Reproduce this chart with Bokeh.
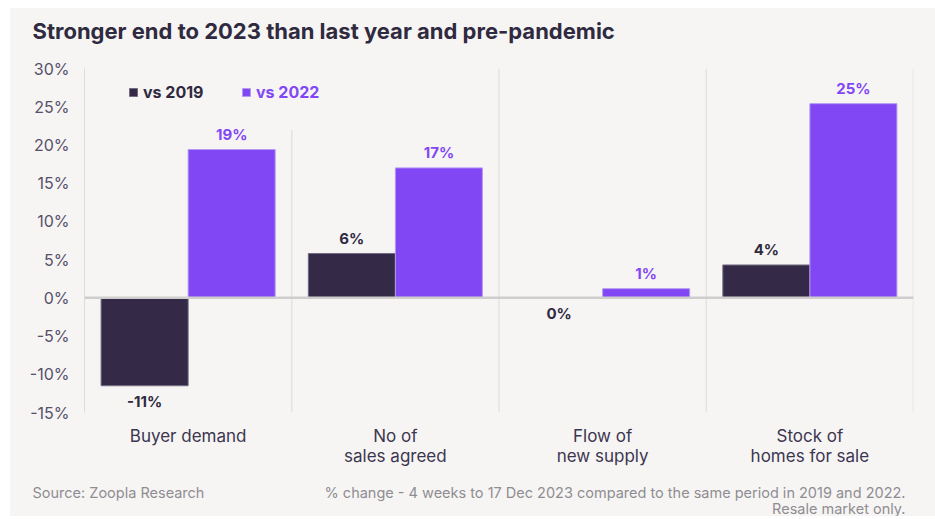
from bokeh.plotting import figure
from bokeh.layouts import column
from bokeh.models import (FactorRange, Range1d, Span, Legend, LegendItem, Label, BoxAnnotation,
                          PrintfTickFormatter, FixedTicker, ColumnDataSource)
from bokeh.transform import dodge
from bokeh.core.properties import value
from bokeh.embed import file_html
from bokeh.resources import INLINE

# ---- data ----
categories = ["Buyer demand", "No of\nsales agreed", "Flow of\nnew supply", "Stock of\nhomes for sale"]
vs_2019 = [-11.5, 5.8, 0.0, 4.3]
vs_2022 = [19.4, 17.0, 1.2, 25.4]
labels_2019 = ["-11%", "6%", "0%", "4%"]
labels_2022 = ["19%", "17%", "1%", "25%"]
series_names = ["vs 2019", "vs 2022"]
y_ticks = [-15, -10, -5, 0, 5, 10, 15, 20, 25, 30]

title_text = "Stronger end to 2023 than last year and pre-pandemic"
source_text = "Source: Zoopla Research"
note_lines = ["% change - 4 weeks to 17 Dec 2023 compared to the same period in 2019 and 2022.",
              "Resale market only."]

# ---- styles ----
BG = "#f6f5f4"
DARK = "#342a47"
PURPLE = "#8247f5"
TEXT = "#2f2a3f"
AXIS_TXT = "#56506a"
GRID = "#e4e3e2"
FOOT = "#8f8d92"
FONT = "Inter"
W = 925


def text_panel(height):
    f = figure(width=W, height=height, x_range=Range1d(0, W), y_range=Range1d(height, 0),
               x_axis_type=None, y_axis_type=None, output_backend="svg", toolbar_location=None,
               background_fill_color=BG, border_fill_color=BG,
               min_border=0, min_border_left=0, min_border_right=0, min_border_top=0, min_border_bottom=0)
    f.frame_align = False
    f.outline_line_color = None
    f.xgrid.grid_line_color = None
    f.ygrid.grid_line_color = None
    return f


# ---- header ----
head = text_panel(50)
head.add_layout(Label(x=22, y=22, text=title_text, text_font=FONT, text_font_size="22px",
                      text_font_style="bold", text_color=TEXT, text_baseline="middle"))

# ---- main chart ----
def offs(vals):
    return [-15 if v > 0 else 16 for v in vals]

src = ColumnDataSource(dict(cat=categories, v19=vs_2019, v22=vs_2022,
                            l19=labels_2019, l22=labels_2022,
                            o19=offs(vs_2019), o22=offs(vs_2022)))

p = figure(x_range=FactorRange(*categories, range_padding=0),
           y_range=Range1d(min(y_ticks), max(y_ticks)),
           width=W, height=415, output_backend="svg", toolbar_location=None,
           background_fill_color=BG, border_fill_color=BG,
           min_border_left=74, min_border_right=22, min_border_top=10, min_border_bottom=61)
p.frame_align = False
p.outline_line_color = None
p.xgrid.grid_line_color = None
p.ygrid.grid_line_color = None

# category separators
for i in range(1, len(categories) + 1):
    p.add_layout(Span(location=i, dimension="height", line_color=GRID, line_width=1.5, level="underlay"))
# legend area hides the top of the first separator
p.add_layout(BoxAnnotation(left=0, right=1.3, top=max(y_ticks), bottom=22, fill_color=BG, fill_alpha=1,
                           line_color=None, level="underlay"))

w = 0.42
r19 = p.vbar(x=dodge("cat", -w / 2, range=p.x_range), top="v19", bottom=0, width=w, source=src,
             fill_color=DARK, line_color="#736c82", line_width=1)
r22 = p.vbar(x=dodge("cat", w / 2, range=p.x_range), top="v22", bottom=0, width=w, source=src,
             fill_color=PURPLE, line_color="#b49af2", line_width=1)

p.add_layout(Span(location=0, dimension="width", line_color="#d0cecd", line_width=2.5))

p.text(x=dodge("cat", -w / 2, range=p.x_range), y="v19", text="l19", y_offset="o19", source=src,
       text_align="center", text_baseline="middle", text_font=value(FONT),
       text_font_size="15px", text_font_style="bold", text_color=TEXT)
p.text(x=dodge("cat", w / 2, range=p.x_range), y="v22", text="l22", y_offset="o22", source=src,
       text_align="center", text_baseline="middle", text_font=value(FONT),
       text_font_size="15px", text_font_style="bold", text_color=PURPLE)

# axes
yax = p.yaxis[0]
yax.ticker = FixedTicker(ticks=y_ticks)
yax.formatter = PrintfTickFormatter(format="%d%%")
yax.axis_line_color = "#dddcdb"
yax.major_tick_line_color = None
yax.minor_tick_line_color = None
yax.major_tick_out = 0
yax.minor_tick_out = 0
yax.major_label_standoff = 15
yax.major_label_text_font = FONT
yax.major_label_text_font_size = "16px"
yax.major_label_text_color = AXIS_TXT

xax = p.xaxis[0]
xax.axis_line_color = None
xax.major_tick_line_color = None
xax.major_tick_out = 0
xax.major_label_standoff = 13
xax.major_label_text_font = FONT
xax.major_label_text_font_size = "17px"
xax.major_label_text_line_height = 1.0
xax.major_label_text_color = "#3c3650"

# legends (one per series so each label takes its series colour)
for name, r, col, loc in zip(series_names, [r19, r22], [TEXT, PURPLE], [(44, 310), (157, 310)]):
    lg = Legend(items=[LegendItem(label=name, renderers=[r])], location=loc,
                orientation="horizontal", padding=26, margin=0,
                background_fill_color=BG, background_fill_alpha=0, border_line_color=None,
                glyph_width=10, glyph_height=10, label_height=20, label_standoff=5,
                label_text_font=FONT, label_text_font_size="16px", label_text_font_style="bold",
                label_text_color=col)
    p.add_layout(lg)

# ---- footer ----
foot = text_panel(43)
foot.add_layout(Label(x=22, y=19, text=source_text, text_font=FONT, text_font_size="14.5px",
                      text_color=FOOT, text_baseline="middle"))
for j, line in enumerate(note_lines):
    foot.add_layout(Label(x=W - 30, y=19 + 16 * j, text=line, text_font=FONT, text_font_size="14.5px",
                          text_color=FOOT, text_align="right", text_baseline="middle"))

page = column(head, p, foot, spacing=0)
page.margin = (8, 0, 0, 10)
page.styles = {"background-color": BG}
open("out.html", "w").write(file_html(page, INLINE))
